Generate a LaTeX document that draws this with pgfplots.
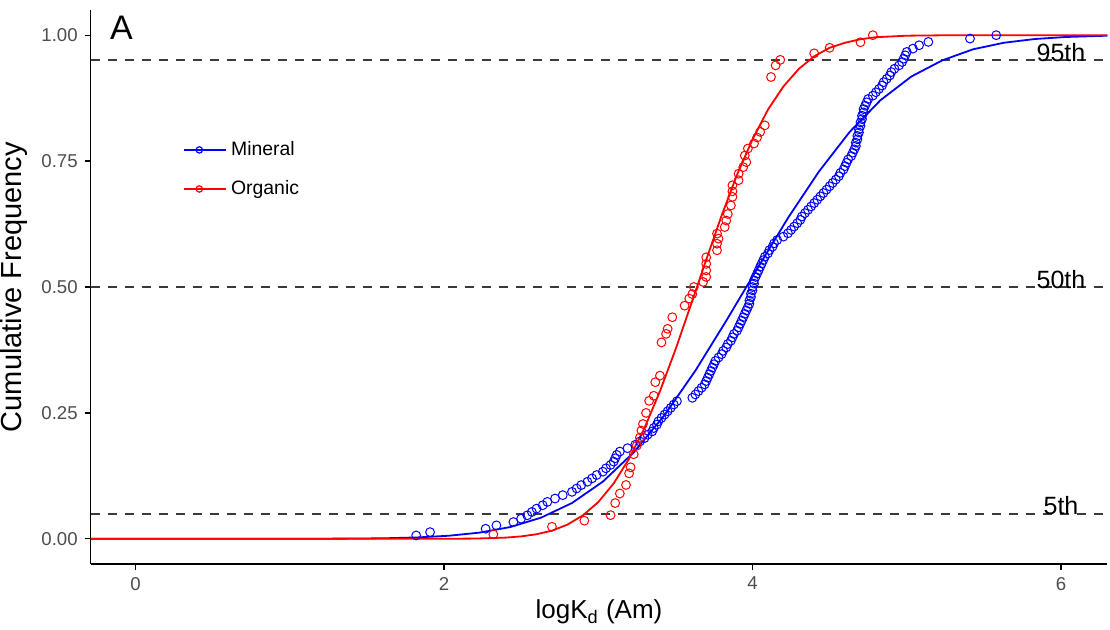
\documentclass[border=0pt]{standalone}
\usepackage{fontspec}
\setmainfont{Liberation Sans}
\usepackage{pgfplots}
\pgfplotsset{compat=1.18}
\definecolor{tickgrey}{HTML}{4D4D4D}
\definecolor{refgrey}{HTML}{3A3A3A}

\begin{document}
\begin{tikzpicture}
\useasboundingbox (-45.35pt,-32.5pt) rectangle (509.65pt,282pt);
\begin{axis}[
  at={(0,0)}, anchor=south west,
  scale only axis, width=508.3pt, height=277pt,
  xmin=-0.29, xmax=6.3, ymin=-0.05, ymax=1.05,
  axis lines=left, axis line style={-, line width=0.7pt},
  xtick={0,2,4,6},
  ytick={0,0.25,0.5,0.75,1},
  yticklabels={0.00,0.25,0.50,0.75,1.00},
  tick align=outside, major tick length=3pt,
  tick style={black, line width=0.6pt},
  tick label style={font=\fontsize{9.3}{11}\selectfont, text=tickgrey},
  /pgf/number format/assume math mode=true,
  xlabel={logK\textsubscript{d} (Am)},
  ylabel={Cumulative Frequency},
  ylabel style={font=\fontsize{14.5}{16}\selectfont},
  xlabel style={font=\fontsize{13}{15}\selectfont, yshift=2pt},
  clip=false,
  legend style={at={(rel axis cs:0.085,0.778)}, anchor=north west,
    draw=none, fill=none, font=\fontsize{9.7}{11}\selectfont,
    row sep=7pt},
  legend cell align=left,
  legend image code/.code={
    \path (0pt,0pt) -- (21pt,0pt);
    \draw[#1] (0pt,0pt) -- (15pt,0pt);
    \draw[#1] plot coordinates {(7.5pt,0pt)};},
]
\addlegendimage{blue, line width=0.8pt, mark=o, mark size=1.6pt, mark options={line width=0.6pt}}
\addlegendentry{Mineral}
\addlegendimage{red, line width=0.8pt, mark=o, mark size=1.6pt, mark options={line width=0.6pt}}
\addlegendentry{Organic}

% percentile guides
\addplot[forget plot, refgrey, line width=0.95pt, dash pattern=on 4.5pt off 4pt] coordinates {(-0.29,0.05) (6.3,0.05)};
\addplot[forget plot, refgrey, line width=0.95pt, dash pattern=on 4.5pt off 4pt] coordinates {(-0.29,0.5) (6.3,0.5)};
\addplot[forget plot, refgrey, line width=0.95pt, dash pattern=on 4.5pt off 4pt] coordinates {(-0.29,0.95) (6.3,0.95)};

% mineral points
\addplot[forget plot, only marks, blue, mark=o, mark size=2.2pt, mark options={line width=0.5pt}] coordinates {
(1.82,0.0067) (1.91,0.0133) (2.27,0.0200) (2.34,0.0267) (2.45,0.0333) (2.50,0.0400)
(2.54,0.0467) (2.57,0.0533) (2.60,0.0600) (2.64,0.0667) (2.67,0.0733) (2.72,0.0800)
(2.77,0.0867) (2.83,0.0933) (2.86,0.1000) (2.89,0.1067) (2.93,0.1133) (2.96,0.1200)
(2.99,0.1267) (3.03,0.1333) (3.05,0.1400) (3.08,0.1467) (3.10,0.1533) (3.11,0.1600)
(3.12,0.1667) (3.14,0.1733) (3.19,0.1800) (3.24,0.1867) (3.27,0.1933) (3.30,0.2000)
(3.32,0.2067) (3.35,0.2133) (3.36,0.2200) (3.38,0.2267) (3.39,0.2333) (3.41,0.2400)
(3.43,0.2467) (3.45,0.2533) (3.47,0.2600) (3.49,0.2667) (3.51,0.2733) (3.61,0.2800)
(3.63,0.2867) (3.65,0.2933) (3.67,0.3000) (3.69,0.3067) (3.70,0.3133) (3.71,0.3200)
(3.72,0.3267) (3.73,0.3333) (3.74,0.3400) (3.75,0.3467) (3.76,0.3533) (3.78,0.3600)
(3.80,0.3667) (3.81,0.3733) (3.83,0.3800) (3.84,0.3867) (3.86,0.3933) (3.87,0.4000)
(3.88,0.4067) (3.90,0.4133) (3.91,0.4200) (3.92,0.4267) (3.93,0.4333) (3.94,0.4400)
(3.95,0.4467) (3.96,0.4533) (3.97,0.4600) (3.98,0.4667) (3.98,0.4733) (3.99,0.4800)
(3.99,0.4867) (4.00,0.4933) (4.00,0.5000) (4.01,0.5067) (4.01,0.5133) (4.02,0.5200)
(4.03,0.5267) (4.04,0.5333) (4.05,0.5400) (4.06,0.5467) (4.07,0.5533) (4.08,0.5600)
(4.10,0.5667) (4.11,0.5733) (4.13,0.5800) (4.14,0.5867) (4.16,0.5933) (4.20,0.6000)
(4.23,0.6067) (4.25,0.6133) (4.27,0.6200) (4.29,0.6267) (4.31,0.6333) (4.32,0.6400)
(4.34,0.6467) (4.36,0.6533) (4.38,0.6600) (4.40,0.6667) (4.42,0.6733) (4.44,0.6800)
(4.46,0.6867) (4.48,0.6933) (4.50,0.7000) (4.52,0.7067) (4.54,0.7133) (4.56,0.7200)
(4.57,0.7267) (4.59,0.7333) (4.60,0.7400) (4.61,0.7467) (4.62,0.7533) (4.64,0.7600)
(4.65,0.7667) (4.66,0.7733) (4.67,0.7800) (4.67,0.7867) (4.68,0.7933) (4.68,0.8000)
(4.69,0.8067) (4.69,0.8133) (4.70,0.8200) (4.70,0.8267) (4.71,0.8333) (4.71,0.8400)
(4.72,0.8467) (4.72,0.8533) (4.73,0.8600) (4.74,0.8667) (4.75,0.8733) (4.78,0.8800)
(4.80,0.8867) (4.82,0.8933) (4.84,0.9000) (4.85,0.9067) (4.87,0.9133) (4.89,0.9200)
(4.90,0.9267) (4.92,0.9333) (4.95,0.9400) (4.97,0.9467) (4.98,0.9533) (4.99,0.9600)
(5.00,0.9667) (5.04,0.9733) (5.08,0.9800) (5.14,0.9867) (5.41,0.9933) (5.58,1.0000)
};

% organic points
\addplot[forget plot, only marks, red, mark=o, mark size=2.2pt, mark options={line width=0.5pt}] coordinates {
(2.32,0.009) (2.70,0.024) (2.91,0.036) (3.08,0.047) (3.11,0.071) (3.14,0.090)
(3.18,0.107) (3.20,0.130) (3.21,0.142) (3.23,0.168) (3.25,0.185) (3.27,0.201)
(3.28,0.215) (3.29,0.228) (3.31,0.250) (3.33,0.274) (3.36,0.284) (3.37,0.311)
(3.40,0.324) (3.41,0.390) (3.44,0.407) (3.45,0.417) (3.48,0.440) (3.56,0.463)
(3.59,0.477) (3.61,0.486) (3.62,0.500) (3.68,0.510) (3.70,0.520) (3.70,0.533)
(3.70,0.546) (3.70,0.559) (3.77,0.573) (3.77,0.586) (3.78,0.596) (3.77,0.606)
(3.82,0.619) (3.83,0.632) (3.84,0.645) (3.86,0.662) (3.87,0.679) (3.87,0.690)
(3.87,0.702) (3.91,0.712) (3.91,0.725) (3.94,0.738) (3.96,0.748) (3.95,0.761)
(3.97,0.775) (4.01,0.785) (4.03,0.797) (4.05,0.808) (4.08,0.821) (4.12,0.917)
(4.15,0.940) (4.18,0.951) (4.40,0.964) (4.50,0.975) (4.70,0.986) (4.78,1.000)
};

% fitted curves
\addplot[forget plot, blue, line width=0.9pt] coordinates {
(-0.29,0) (1.03,0.0001) (1.43,0.0005) (1.63,0.0012) (1.83,0.0028) (2.03,0.0061)
(2.23,0.0123) (2.43,0.0234) (2.63,0.0421) (2.83,0.0711) (3.03,0.1136) (3.23,0.1716)
(3.43,0.2457) (3.63,0.334) (3.83,0.433) (4.03,0.536) (4.23,0.637) (4.43,0.729)
(4.63,0.808) (4.83,0.871) (5.03,0.918) (5.23,0.950) (5.43,0.972) (5.63,0.985)
(5.83,0.9924) (6.03,0.9964) (6.3,0.999)
};
\addplot[forget plot, red, line width=0.9pt] coordinates {
(-0.29,0) (2.0,0.0001) (2.2,0.0005) (2.4,0.0024) (2.5,0.0048) (2.6,0.0091)
(2.7,0.0162) (2.8,0.0281) (2.9,0.0465) (3.0,0.0728) (3.1,0.110) (3.2,0.159)
(3.3,0.220) (3.4,0.293) (3.5,0.375) (3.6,0.464) (3.7,0.554) (3.8,0.642)
(3.9,0.723) (4.0,0.793) (4.1,0.852) (4.2,0.898) (4.3,0.933) (4.4,0.958)
(4.5,0.975) (4.6,0.985) (4.7,0.992) (4.8,0.996) (5.0,0.999) (5.3,1.0) (6.3,1.0)
};

\node[anchor=base, font=\fontsize{12.5}{14}\selectfont] at (axis cs:6.0,0.948) {95th};
\node[anchor=base, font=\fontsize{12.5}{14}\selectfont] at (axis cs:6.0,0.498) {50th};
\node[anchor=base, font=\fontsize{12.5}{14}\selectfont] at (axis cs:6.0,0.048) {5th};
\node[font=\fontsize{17}{19}\selectfont] at (axis cs:-0.09,1.015) {A};
\end{axis}
\end{tikzpicture}
\end{document}
